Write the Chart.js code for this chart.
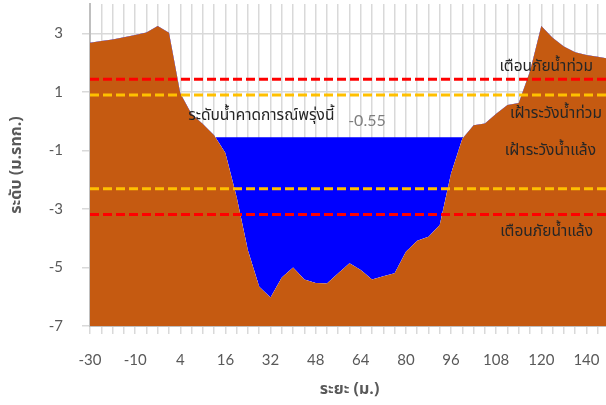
<!DOCTYPE html>
<html>
<head>
<meta charset="utf-8">
<script src="https://cdn.jsdelivr.net/npm/chart.js@4.4.1/dist/chart.umd.min.js"></script>
<style>
  html, body { margin: 0; padding: 0; overflow: hidden; background: #fff; }
  #wrap { width: 609px; height: 405px; }
</style>
</head>
<body>
<div id="wrap"><canvas id="profileChart"></canvas></div>
<script>
// ระยะ (ม.) - distances along the cross section
const distances = [-30, -25, -20, -15, -10, -7, -4, 0, 4, 7, 10, 13, 16, 20, 24, 28, 32, 36, 40, 44,
  48, 52, 56, 60, 64, 68, 72, 76, 80, 84, 88, 92, 96, 99, 102, 105, 108, 111, 114, 117,
  120, 125, 130, 135, 140, 145, 150];

// ระดับท้องน้ำ / ตลิ่ง (ม.รทก.)
const groundLevel = [2.68, 2.74, 2.79, 2.86, 2.94, 3.03, 3.25, 3.02, 0.95, 0.24, -0.10, -0.48, -1.09, -2.6, -4.42, -5.66,
  -6.03, -5.34, -5.0, -5.41, -5.53, -5.55, -5.2, -4.86, -5.09, -5.41, -5.3, -5.2, -4.46, -4.09, -3.95, -3.55,
  -1.79, -0.6, -0.14, -0.08, 0.25, 0.55, 0.62, 1.7, 3.25, 2.85, 2.55, 2.35, 2.26, 2.2, 2.13];

// ระดับน้ำคาดการณ์พรุ่งนี้
const forecastLevel = -0.55;

// เกณฑ์เตือนภัย
const floodWarning = 1.43;
const floodWatch = 0.89;
const droughtWatch = -2.31;
const droughtWarning = -3.19;

const yTicks = [-7, -5, -3, -1, 1, 3];

document.addEventListener('DOMContentLoaded', function() {
    const tickColor = '#595959';
    const gridColor = '#D9D9D9';
    const thaiFont = "'Noto Sans Thai', 'Noto Sans', Tahoma, sans-serif";

    const flat = v => distances.map(() => v);

    function dashed(value, color) {
        return {
            data: flat(value),
            borderColor: color,
            borderWidth: 3,
            borderDash: [9, 4],
            pointRadius: 0,
            fill: false,
            order: 1
        };
    }

    // ข้อความกำกับเส้นต่างๆ
    const labelsPlugin = {
        id: 'levelLabels',
        afterDatasetsDraw(chart) {
            const { ctx, chartArea, scales: { y } } = chart;
            const right = chartArea.right;
            ctx.save();
            ctx.textBaseline = 'middle';
            ctx.fillStyle = '#262626';
            ctx.font = '15.5px ' + thaiFont;

            ctx.textAlign = 'right';
            ctx.fillText('เตือนภัยน้ำท่วม', right - 16, y.getPixelForValue(floodWarning) - 11);
            ctx.fillText('เฝ้าระวังน้ำท่วม', right - 7, y.getPixelForValue(floodWatch) + 20);
            ctx.fillText('เฝ้าระวังน้ำแล้ง', right - 13, y.getPixelForValue(droughtWatch) - 37);
            ctx.fillText('เตือนภัยน้ำแล้ง', right - 16, y.getPixelForValue(droughtWarning) + 18);

            ctx.textAlign = 'left';
            const left = chartArea.left + chartArea.width * (8.7 / (distances.length - 1));
            const wy = y.getPixelForValue(forecastLevel);
            ctx.fillText('ระดับน้ำคาดการณ์พรุ่งนี้', left, wy - 20);
            ctx.fillStyle = '#7F7F7F';
            ctx.font = '16px Lato, sans-serif';
            ctx.fillText(forecastLevel.toFixed(2), left + 160, wy - 16);
            ctx.restore();
        }
    };

    const ctx = document.getElementById('profileChart').getContext('2d');
    new Chart(ctx, {
        type: 'line',
        data: {
            labels: distances,
            datasets: [
                {
                    label: 'ground',
                    data: groundLevel,
                    borderWidth: 0,
                    borderColor: 'rgba(0,0,0,0)',
                    backgroundColor: '#C55A11',
                    pointRadius: 0,
                    tension: 0,
                    fill: 'start',
                    order: 3
                },
                {
                    label: 'water',
                    data: flat(forecastLevel),
                    borderWidth: 0,
                    borderColor: 'rgba(0,0,0,0)',
                    pointRadius: 0,
                    fill: { target: 0, above: '#0000FF', below: 'rgba(0,0,0,0)' },
                    order: 2
                },
                dashed(floodWarning, '#FF0000'),
                dashed(floodWatch, '#FFC000'),
                dashed(droughtWatch, '#FFC000'),
                dashed(droughtWarning, '#FF0000')
            ]
        },
        options: {
            responsive: true,
            maintainAspectRatio: false,
            animation: false,
            layout: { padding: { top: 4, right: 0, left: 0, bottom: 0 } },
            plugins: {
                legend: { display: false },
                tooltip: { enabled: false }
            },
            scales: {
                x: {
                    type: 'category',
                    grid: { color: gridColor, lineWidth: 1.5, tickLength: 8 },
                    border: { color: '#BFBFBF', width: 2 },
                    ticks: {
                        autoSkip: false,
                        maxRotation: 0,
                        padding: 17,
                        color: tickColor,
                        font: { family: 'Lato, sans-serif', size: 15 },
                        callback: function(value, index) {
                            return index % 4 === 0 ? this.getLabelForValue(value) : '';
                        }
                    },
                    title: {
                        display: true,
                        text: 'ระยะ (ม.)',
                        color: tickColor,
                        font: { family: thaiFont, size: 16, weight: 'bold' },
                        padding: { top: 0, bottom: 5 }
                    },
                    afterFit: s => {
                        s.height = 79;
                        s.paddingLeft = 0;
                        s.paddingRight = 0;
                    }
                },
                y: {
                    min: -7,
                    max: 4,
                    afterBuildTicks: s => { s.ticks = yTicks.map(v => ({ value: v })); },
                    grid: { color: gridColor, lineWidth: 1.5, tickLength: 8 },
                    border: { color: '#BFBFBF', width: 2 },
                    ticks: {
                        padding: 19,
                        color: tickColor,
                        font: { family: 'Lato, sans-serif', size: 15 }
                    },
                    title: {
                        display: true,
                        text: 'ระดับ (ม.รทก.)',
                        color: tickColor,
                        font: { family: thaiFont, size: 16, weight: 'bold' },
                        padding: { top: 8, bottom: 0 }
                    },
                    afterFit: s => {
                        s.width = 90;
                        s.paddingTop = 0;
                        s.paddingBottom = 0;
                    }
                }
            }
        },
        plugins: [labelsPlugin]
    });
});
</script>
</body>
</html>
